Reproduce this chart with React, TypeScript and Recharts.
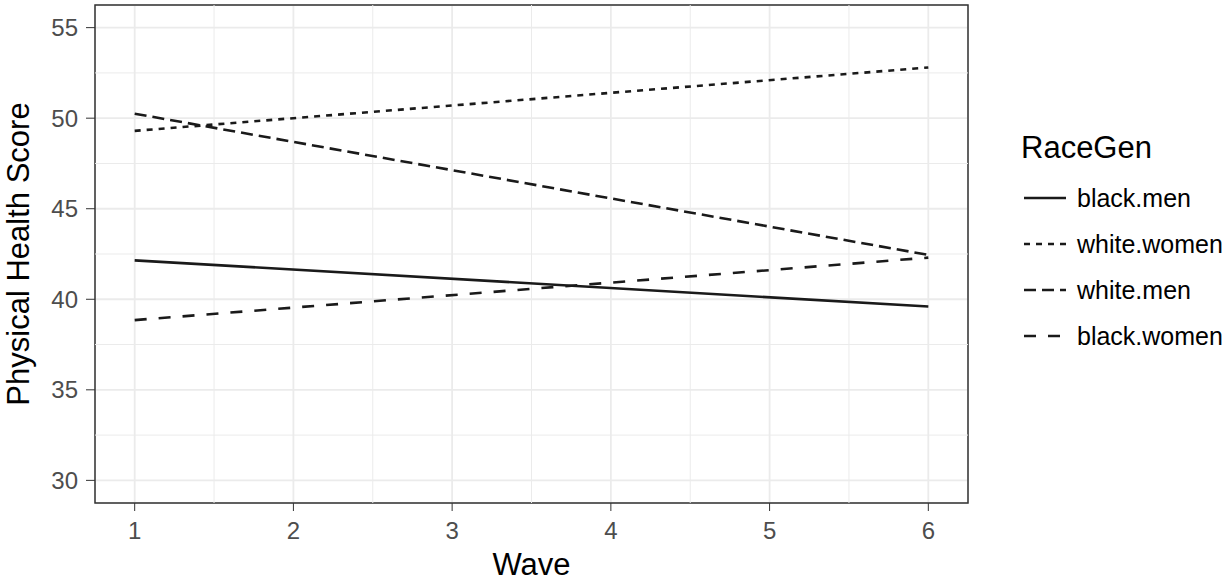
import React from 'react';
import { LineChart, Line, XAxis, YAxis, CartesianGrid, ReferenceLine, ReferenceArea, Label } from 'recharts';

const waves = [1, 6];
const blackMen = [42.15, 39.6];
const whiteWomen = [49.3, 52.8];
const whiteMen = [50.25, 42.45];
const blackWomen = [38.85, 42.3];

const xTicks = [1, 2, 3, 4, 5, 6];
const yTicks = [30, 35, 40, 45, 50, 55];
const xMinor = [1.5, 2.5, 3.5, 4.5, 5.5];
const yMinor = [32.5, 37.5, 42.5, 47.5, 52.5];
const xDomain = [0.75, 6.25];
const yDomain = [28.75, 56.25];

const series = [
  { key: 'blackMen', name: 'black.men', dash: undefined },
  { key: 'whiteWomen', name: 'white.women', dash: '6 6' },
  { key: 'whiteMen', name: 'white.men', dash: '12 6' },
  { key: 'blackWomen', name: 'black.women', dash: '12 12' },
];

const data = waves.map((w, i) => ({
  wave: w,
  blackMen: blackMen[i],
  whiteWomen: whiteWomen[i],
  whiteMen: whiteMen[i],
  blackWomen: blackWomen[i],
}));

const FONT = '"Liberation Sans", Arial, Helvetica, sans-serif';
const LINE = '#1a1a1a';
const GRID = '#ebebeb';
const LW = 2.6;

const LegendBox = () => (
  <div style={{ position: 'absolute', left: 1021, top: 129, fontFamily: FONT, color: '#000' }}>
    <div style={{ fontSize: 31, lineHeight: '38px', marginBottom: 8 }}>RaceGen</div>
    {series.map((s) => (
      <div key={s.key} style={{ display: 'flex', alignItems: 'center', height: 46 }}>
        <svg width={46} height={10} style={{ marginRight: 10 }}>
          <line x1={3} y1={5} x2={45} y2={5} stroke={LINE} strokeWidth={LW} strokeDasharray={s.dash} />
        </svg>
        <span style={{ fontSize: 25 }}>{s.name}</span>
      </div>
    ))}
  </div>
);

export default function App() {
  return (
    <div style={{ position: 'absolute', left: 0, top: 0, width: 1229, height: 582, background: '#fff' }}>
      <LineChart width={1229} height={582} data={data} margin={{ top: 5, right: 261, bottom: 0, left: 0 }}>
        <CartesianGrid stroke={GRID} strokeWidth={1.8} />
        {xMinor.map((v) => (
          <ReferenceLine key={'xm' + v} x={v} stroke={GRID} strokeWidth={1} />
        ))}
        {yMinor.map((v) => (
          <ReferenceLine key={'ym' + v} y={v} stroke={GRID} strokeWidth={1} />
        ))}
        <XAxis
          dataKey="wave"
          type="number"
          domain={xDomain}
          ticks={xTicks}
          allowDataOverflow
          height={79}
          tickSize={8}
          tickMargin={11}
          stroke="#333"
          axisLine={false}
          tick={{ fill: '#4d4d4d', fontSize: 24, fontFamily: FONT }}
        >
          <Label value="Wave" position="insideBottom" offset={7} style={{ fontSize: 31, fontFamily: FONT, fill: '#000' }} />
        </XAxis>
        <YAxis
          type="number"
          domain={yDomain}
          ticks={yTicks}
          allowDataOverflow
          width={95}
          tickSize={9}
          tickMargin={8}
          stroke="#333"
          axisLine={false}
          tick={{ fill: '#4d4d4d', fontSize: 24, fontFamily: FONT }}
        >
          <Label
            value="Physical Health Score"
            angle={-90}
            position="insideLeft"
            offset={18}
            style={{ fontSize: 31, fontFamily: FONT, fill: '#000', textAnchor: 'middle' }}
          />
        </YAxis>
        {series.map((s) => (
          <Line
            key={s.key}
            type="linear"
            dataKey={s.key}
            name={s.name}
            stroke={LINE}
            strokeWidth={LW}
            strokeDasharray={s.dash}
            dot={false}
            activeDot={false}
            isAnimationActive={false}
          />
        ))}
        <ReferenceArea
          x1={xDomain[0]}
          x2={xDomain[1]}
          y1={yDomain[0]}
          y2={yDomain[1]}
          fill="none"
          stroke="#333"
          strokeWidth={1.5}
        />
      </LineChart>
      <LegendBox />
    </div>
  );
}
